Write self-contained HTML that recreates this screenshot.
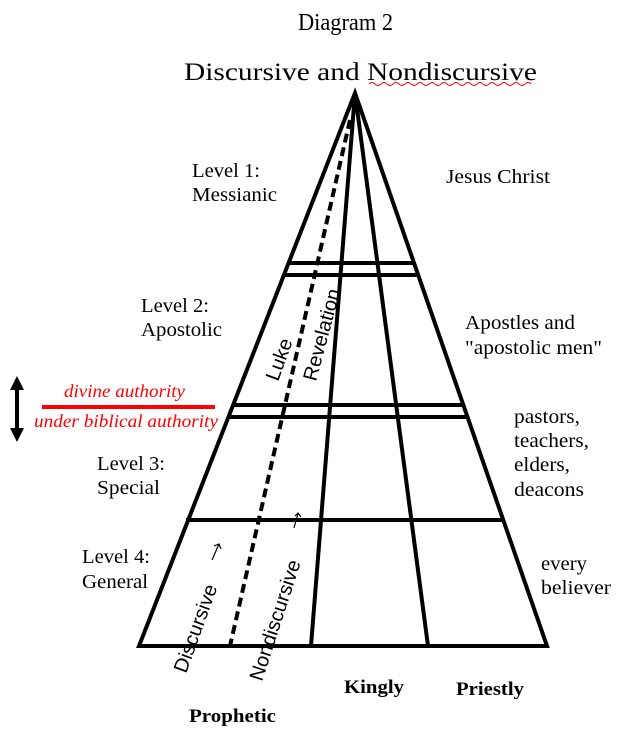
<!DOCTYPE html>
<html><head><style>body{margin:0;background:#fff}</style></head><body>
<svg width="627" height="734" xmlns="http://www.w3.org/2000/svg" font-family="Liberation Serif, serif">
<text x="298" y="30" font-size="24" textLength="95" lengthAdjust="spacingAndGlyphs">Diagram 2</text>
<text x="184" y="80" font-size="25" textLength="353" lengthAdjust="spacingAndGlyphs">Discursive and Nondiscursive</text>
<path d="M369 84 q3 -3 6 0 t6 0 t6 0 t6 0 t6 0 t6 0 t6 0 t6 0 t6 0 t6 0 t6 0 t6 0 t6 0 t6 0 t6 0 t6 0 t6 0 t6 0 t6 0 t6 0 t6 0 t6 0 t6 0 t6 0 t6 0 t6 0 t6 0" stroke="red" fill="none" stroke-width="1"/>
<g stroke="#000" stroke-width="4" fill="none">
<path d="M139 646 L355 93 L547 646 Z"/>
<line x1="355" y1="93" x2="311" y2="646"/>
<line x1="355" y1="93" x2="428" y2="646"/>
<line x1="288" y1="263" x2="414" y2="263"/>
<line x1="284" y1="275" x2="418" y2="275"/>
<line x1="233" y1="405" x2="463" y2="405"/>
<line x1="228" y1="417" x2="468" y2="417"/>
<line x1="186" y1="520" x2="503" y2="520"/>
<line x1="350" y1="120" x2="230" y2="646" stroke-dasharray="9,5"/>
</g>
<g font-size="20">
<text x="192" y="177" textLength="68" lengthAdjust="spacingAndGlyphs">Level 1:</text><text x="192" y="201" textLength="85" lengthAdjust="spacingAndGlyphs">Messianic</text>
<text x="141" y="312" textLength="68" lengthAdjust="spacingAndGlyphs">Level 2:</text><text x="141" y="336" textLength="81" lengthAdjust="spacingAndGlyphs">Apostolic</text>
<text x="97" y="470" textLength="68" lengthAdjust="spacingAndGlyphs">Level 3:</text><text x="97" y="494" textLength="63" lengthAdjust="spacingAndGlyphs">Special</text>
<text x="82" y="563" textLength="68" lengthAdjust="spacingAndGlyphs">Level 4:</text><text x="82" y="588" textLength="66" lengthAdjust="spacingAndGlyphs">General</text>
<text x="446" y="183" textLength="104" lengthAdjust="spacingAndGlyphs">Jesus Christ</text>
<text x="465" y="329" textLength="110" lengthAdjust="spacingAndGlyphs">Apostles and</text><text x="465" y="354" textLength="137" lengthAdjust="spacingAndGlyphs">"apostolic men"</text>
<text x="514" y="423" textLength="66" lengthAdjust="spacingAndGlyphs">pastors,</text><text x="514" y="447" textLength="75" lengthAdjust="spacingAndGlyphs">teachers,</text><text x="514" y="471" textLength="56" lengthAdjust="spacingAndGlyphs">elders,</text><text x="514" y="496" textLength="70" lengthAdjust="spacingAndGlyphs">deacons</text>
<text x="541" y="570" textLength="46" lengthAdjust="spacingAndGlyphs">every</text><text x="541" y="594" textLength="70" lengthAdjust="spacingAndGlyphs">believer</text>
</g>
<g font-size="19" font-weight="bold">
<text x="344" y="693" textLength="60" lengthAdjust="spacingAndGlyphs">Kingly</text>
<text x="456" y="695" textLength="68" lengthAdjust="spacingAndGlyphs">Priestly</text>
<text x="189" y="722" textLength="87" lengthAdjust="spacingAndGlyphs">Prophetic</text>
</g>
<g font-family="Liberation Sans, sans-serif" font-size="20">
<text transform="translate(278,382) rotate(-70)">Luke</text>
<text transform="translate(316,382) rotate(-75)">Revelation</text>
<text transform="translate(186,674) rotate(-70)">Discursive</text>
<text transform="translate(262,682) rotate(-72)">Nondiscursive</text>
</g>
<g stroke="#000" stroke-width="1.2" fill="none">
<line x1="212" y1="560" x2="219" y2="544"/><path d="M214 546 L219 544 L221 549"/>
<line x1="294" y1="528" x2="298" y2="513"/><path d="M295 516 L298 513 L301 517"/>
</g>
<line x1="42" y1="407" x2="215" y2="407" stroke="red" stroke-width="4"/>
<g fill="red" font-style="italic" font-size="18">
<text x="64" y="397" textLength="121" lengthAdjust="spacingAndGlyphs">divine authority</text>
<text x="34" y="427" textLength="184" lengthAdjust="spacingAndGlyphs">under biblical  authority</text>
</g>
<line x1="17" y1="385" x2="17" y2="433" stroke="#000" stroke-width="4"/>
<polygon points="17,376 10,390 24,390" fill="#000"/>
<polygon points="17,442 10,428 24,428" fill="#000"/>
</svg>
</body></html>
